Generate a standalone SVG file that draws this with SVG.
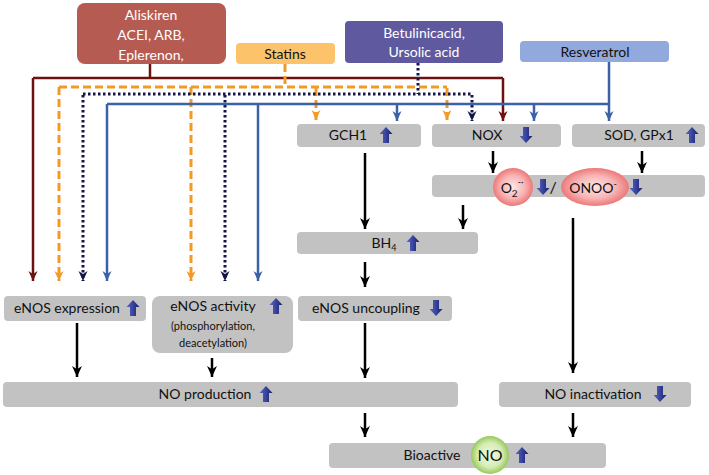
<svg xmlns="http://www.w3.org/2000/svg" width="709" height="475" viewBox="0 0 709 475">
<defs>
<style>
text{font-family:Lato,"Open Sans","Liberation Sans",sans-serif;font-size:14px;text-anchor:middle}
.box{fill:#c2c2c2}
.w{fill:#fff}
.k{fill:#111}
.sm{font-size:11px}
.red{stroke:#6e1010;stroke-width:2.5;fill:none}
.org{stroke:#f29a26;stroke-width:3;fill:none;stroke-dasharray:8 4}
.nav{stroke:#14144a;stroke-width:3;fill:none;stroke-dasharray:2.5 2.5}
.blu{stroke:#3b62a6;stroke-width:2.5;fill:none}
.blk{stroke:#000;stroke-width:2.5;fill:none;marker-end:url(#mk)}
</style>
<marker id="mk" viewBox="0 0 10 10" refX="10" refY="5" markerWidth="11" markerHeight="11" markerUnits="userSpaceOnUse" orient="auto"><path d="M0,0.5 L10,5 L0,9.5 L3,5 z" fill="#000"/></marker>
<marker id="mr" viewBox="0 0 10 10" refX="10" refY="5" markerWidth="10" markerHeight="10" markerUnits="userSpaceOnUse" orient="auto"><path d="M0,0.5 L10,5 L0,9.5 L3,5 z" fill="#6e1010"/></marker>
<marker id="mo" viewBox="0 0 10 10" refX="10" refY="5" markerWidth="10" markerHeight="10" markerUnits="userSpaceOnUse" orient="auto"><path d="M0,0.5 L10,5 L0,9.5 L3,5 z" fill="#f29a26"/></marker>
<marker id="mn" viewBox="0 0 10 10" refX="10" refY="5" markerWidth="10" markerHeight="10" markerUnits="userSpaceOnUse" orient="auto"><path d="M0,0.5 L10,5 L0,9.5 L3,5 z" fill="#14144a"/></marker>
<marker id="mb" viewBox="0 0 10 10" refX="10" refY="5" markerWidth="10" markerHeight="10" markerUnits="userSpaceOnUse" orient="auto"><path d="M0,0.5 L10,5 L0,9.5 L3,5 z" fill="#3b62a6"/></marker>
<linearGradient id="ga" x1="0" y1="0" x2="1" y2="0"><stop offset="0" stop-color="#5a66c8"/><stop offset="1" stop-color="#16206e"/></linearGradient>
<radialGradient id="gp"><stop offset="0" stop-color="#fde6e6"/><stop offset="0.6" stop-color="#f8b4b4"/><stop offset="1" stop-color="#ec7878"/></radialGradient>
<radialGradient id="gg"><stop offset="0" stop-color="#f2f9e6"/><stop offset="0.65" stop-color="#d6ecb4"/><stop offset="1" stop-color="#96c95a"/></radialGradient>
<path id="up" d="M0,-8 L6.5,-1 L3,-1 L3,8 L-3,8 L-3,-1 L-6.5,-1 z" fill="url(#ga)"/>
<path id="dn" d="M0,8 L6.5,1 L3,1 L3,-8 L-3,-8 L-3,1 L-6.5,1 z" fill="url(#ga)"/>
</defs>
<rect width="709" height="475" fill="#fff"/>

<g id="connectors">
<!-- red -->
<path class="red" d="M150,64 V78"/>
<path class="red" d="M33,78 H503"/>
<path class="red" d="M33,78 V281" marker-end="url(#mr)"/>
<path class="red" d="M503,78 V121" marker-end="url(#mr)"/>
<!-- orange -->
<path class="org" d="M285,64 V87"/>
<path class="org" d="M59,87 H447"/>
<path class="org" d="M59,87 V281" marker-end="url(#mo)"/>
<path class="org" d="M191,87 V281" marker-end="url(#mo)"/>
<path class="org" d="M316,88 V120" marker-end="url(#mo)"/>
<path class="org" d="M447,88 V120" marker-end="url(#mo)"/>
<!-- navy dotted -->
<path class="nav" d="M418,63 V94"/>
<path class="nav" d="M83,94 H472"/>
<path class="nav" d="M83,95 V281" marker-end="url(#mn)"/>
<path class="nav" d="M225,95 V281" marker-end="url(#mn)"/>
<path class="nav" d="M472,95 V121" marker-end="url(#mn)"/>
<!-- blue -->
<path class="blu" d="M609,62 V104"/>
<path class="blu" d="M107,104 H609"/>
<path class="blu" d="M107,104 V281" marker-end="url(#mb)"/>
<path class="blu" d="M258,104 V281" marker-end="url(#mb)"/>
<path class="blu" d="M397,104 V121" marker-end="url(#mb)"/>
<path class="blu" d="M534,104 V121" marker-end="url(#mb)"/>
<path class="blu" d="M609,104 V121" marker-end="url(#mb)"/>
<!-- black -->
<path class="blk" d="M493,151 V173"/>
<path class="blk" d="M642,151 V173"/>
<path class="blk" d="M365,153 V229"/>
<path class="blk" d="M463,205 V229"/>
<path class="blk" d="M573,218 V373"/>
<path class="blk" d="M365,262 V287"/>
<path class="blk" d="M77,323 V377"/>
<path class="blk" d="M212,358 V377"/>
<path class="blk" d="M365,323 V378"/>
<path class="blk" d="M365,413 V437"/>
<path class="blk" d="M573,413 V437"/>
</g>

<g id="aliskiren">
<rect x="77" y="3" width="149" height="61" rx="8" fill="#b55b52"/>
<text class="w" x="151" y="20">Aliskiren</text>
<text class="w" x="151" y="40">ACEI, ARB,</text>
<text class="w" x="151" y="60">Eplerenon,</text>
</g>
<g id="statins">
<rect x="236" y="43" width="99" height="21" rx="4" fill="#fcc36a"/>
<text class="k" x="285" y="59">Statins</text>
</g>
<g id="betulinic">
<rect x="345" y="21" width="158" height="42" rx="4" fill="#5f5aa0"/>
<text class="w" x="424" y="38">Betulinicacid,</text>
<text class="w" x="424" y="57">Ursolic acid</text>
</g>
<g id="resveratrol">
<rect x="520" y="41" width="149" height="21" rx="4" fill="#91a9dc"/>
<text class="k" x="595" y="57">Resveratrol</text>
</g>

<g id="gch1">
<rect class="box" x="297" y="124" width="124" height="23" rx="4"/>
<text class="k" x="348" y="140">GCH1</text>
<use href="#up" x="386" y="135"/>
</g>
<g id="nox">
<rect class="box" x="432" y="124" width="129" height="23" rx="4"/>
<text class="k" x="487" y="140">NOX</text>
<use href="#dn" x="526" y="135"/>
</g>
<g id="sod">
<rect class="box" x="572" y="124" width="133" height="23" rx="4"/>
<text class="k" x="639" y="140">SOD, GPx1</text>
<use href="#up" x="692" y="135"/>
</g>
<g id="ros">
<rect class="box" x="432" y="175" width="273" height="22" rx="4"/>
<ellipse cx="513" cy="187" rx="20" ry="19" fill="url(#gp)"/>
<ellipse cx="595" cy="187" rx="34" ry="19" fill="url(#gp)"/>
<text class="k" x="512" y="193">O<tspan font-size="10" dy="4">2</tspan><tspan font-size="9" dy="-12">-·</tspan></text>
<use href="#dn" x="543" y="187"/>
<text class="k" x="553" y="193" style="font-size:16px">/</text>
<text class="k" x="593" y="193">ONOO<tspan font-size="9" dy="-6">-</tspan></text>
<use href="#dn" x="636" y="187"/>
</g>
<g id="bh4">
<rect class="box" x="297" y="232" width="181" height="22" rx="4"/>
<text class="k" x="384" y="248">BH<tspan font-size="9" dy="3">4</tspan></text>
<use href="#up" x="413" y="243"/>
</g>

<g id="enos-expression">
<rect class="box" x="4" y="296" width="142" height="25" rx="4"/>
<text class="k" x="67" y="313">eNOS expression</text>
<use href="#up" x="133" y="308"/>
</g>
<g id="enos-activity">
<rect class="box" x="152" y="296" width="141" height="57" rx="8"/>
<text class="k" x="213" y="311">eNOS activity</text>
<use href="#up" x="276" y="306"/>
<text class="k sm" x="213" y="330">(phosphorylation,</text>
<text class="k sm" x="213" y="347">deacetylation)</text>
</g>
<g id="enos-uncoupling">
<rect class="box" x="298" y="296" width="154" height="25" rx="4"/>
<text class="k" x="366" y="313">eNOS uncoupling</text>
<use href="#dn" x="436" y="308"/>
</g>
<g id="no-production">
<rect class="box" x="3" y="382" width="455" height="25" rx="4"/>
<text class="k" x="205" y="399">NO production</text>
<use href="#up" x="266" y="394"/>
</g>
<g id="no-inactivation">
<rect class="box" x="499" y="382" width="192" height="25" rx="4"/>
<text class="k" x="593" y="399">NO inactivation</text>
<use href="#dn" x="660" y="394"/>
</g>
<g id="bioactive">
<rect class="box" x="329" y="443" width="277" height="25" rx="4"/>
<text class="k" x="432" y="460">Bioactive</text>
<circle cx="490" cy="455" r="19" fill="url(#gg)"/>
<text class="k" x="490" y="461" style="font-size:16px">NO</text>
<use href="#up" x="522" y="455"/>
</g>
</svg>
